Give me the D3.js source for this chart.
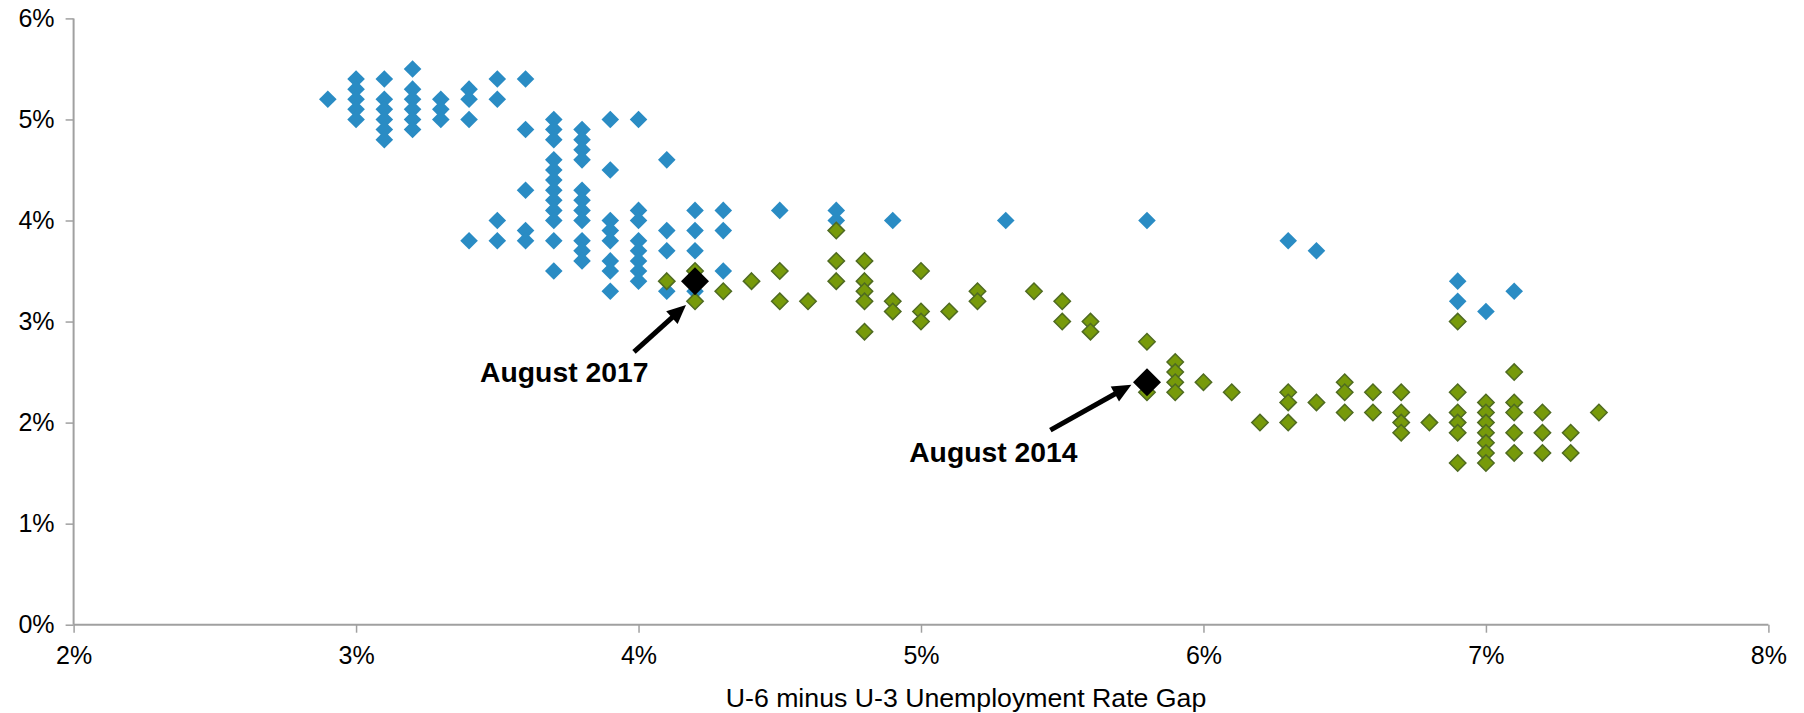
<!DOCTYPE html>
<html>
<head>
<meta charset="utf-8">
<script src="https://cdnjs.cloudflare.com/ajax/libs/d3/7.8.5/d3.min.js"></script>
<style>
  html, body { margin: 0; padding: 0; background: #fff; }
  svg { display: block; }
  text { font-family: "Liberation Sans", Arial, sans-serif; fill: #000; }
</style>
</head>
<body>
<svg id="chart" width="1804" height="713"></svg>
<script>
// ---- Data (U-6 minus U-3 gap %, y value %) ----
const blueX = [2.9,
  3.0,3.0,3.0,3.0,3.0,
  3.1,3.1,3.1,3.1,3.1,3.1,
  3.2,3.2,3.2,3.2,3.2,3.2,
  3.3,3.3,3.3,
  3.4,3.4,3.4,3.4,
  3.5,3.5,3.5,3.5,
  3.6,3.6,3.6,3.6,3.6,
  3.7,3.7,3.7,3.7,3.7,3.7,3.7,3.7,3.7,3.7,3.7,3.7,
  3.8,3.8,3.8,3.8,3.8,3.8,3.8,3.8,3.8,3.8,3.8,
  3.9,3.9,3.9,3.9,3.9,3.9,3.9,3.9,
  4.0,4.0,4.0,4.0,4.0,4.0,4.0,4.0,
  4.1,4.1,4.1,4.1,
  4.2,4.2,4.2,4.2,
  4.3,4.3,4.3,
  4.5,
  4.7,4.7,
  4.9,
  5.3,
  5.8,
  6.3,
  6.4,
  6.9,6.9,
  7.0,
  7.1];
const blueY = [5.2,
  5.4,5.3,5.2,5.1,5.0,
  5.4,5.2,5.1,5.0,4.9,4.8,
  5.5,5.3,5.2,5.1,5.0,4.9,
  5.2,5.1,5.0,
  5.3,5.2,5.0,3.8,
  5.4,5.2,4.0,3.8,
  5.4,4.9,4.3,3.9,3.8,
  5.0,4.9,4.8,4.6,4.5,4.4,4.3,4.2,4.1,4.0,3.8,3.5,
  4.9,4.8,4.7,4.6,4.3,4.2,4.1,4.0,3.8,3.7,3.6,
  5.0,4.5,4.0,3.9,3.8,3.6,3.5,3.3,
  5.0,4.1,4.0,3.8,3.7,3.6,3.5,3.4,
  4.6,3.9,3.7,3.3,
  4.1,3.9,3.7,3.3,
  4.1,3.9,3.5,
  4.1,
  4.1,4.0,
  4.0,
  4.0,
  4.0,
  3.8,
  3.7,
  3.4,3.2,
  3.1,
  3.3];

const greenX = [4.1,
  4.2,4.2,
  4.3,
  4.4,
  4.5,4.5,
  4.6,
  4.7,4.7,4.7,
  4.8,4.8,4.8,4.8,4.8,
  4.9,4.9,
  5.0,5.0,5.0,
  5.1,
  5.2,5.2,
  5.4,
  5.5,5.5,
  5.6,5.6,
  5.8,5.8,
  5.9,5.9,5.9,5.9,
  6.0,
  6.1,
  6.2,
  6.3,6.3,6.3,
  6.4,
  6.5,6.5,6.5,
  6.6,6.6,
  6.7,6.7,6.7,6.7,
  6.8,
  6.9,6.9,6.9,6.9,6.9,6.9,
  7.0,7.0,7.0,7.0,7.0,7.0,7.0,
  7.1,7.1,7.1,7.1,7.1,
  7.2,7.2,7.2,
  7.3,7.3,
  7.4];
const greenY = [3.4,
  3.5,3.2,
  3.3,
  3.4,
  3.5,3.2,
  3.2,
  3.9,3.6,3.4,
  3.6,3.4,3.3,3.2,2.9,
  3.2,3.1,
  3.5,3.1,3.0,
  3.1,
  3.3,3.2,
  3.3,
  3.2,3.0,
  3.0,2.9,
  2.8,2.3,
  2.6,2.5,2.4,2.3,
  2.4,
  2.3,
  2.0,
  2.3,2.2,2.0,
  2.2,
  2.4,2.3,2.1,
  2.3,2.1,
  2.3,2.1,2.0,1.9,
  2.0,
  3.0,2.3,2.1,2.0,1.9,1.6,
  2.2,2.1,2.0,1.9,1.8,1.7,1.6,
  2.5,2.2,2.1,1.9,1.7,
  2.1,1.9,1.7,
  1.9,1.7,
  2.1];

const highlightX = [4.2, 5.8];
const highlightY = [3.4, 2.4];
const highlightLabels = ["August 2017", "August 2014"];
// annotation geometry in data units: label anchor and arrow tail/tip
const labelX = [3.737, 5.256];
const labelY = [2.405, 1.615];
const arrowFromX = [3.984, 5.458];
const arrowFromY = [2.699, 1.925];
const arrowToX = [4.168, 5.745];
const arrowToY = [3.165, 2.375];

const xTicks = [2, 3, 4, 5, 6, 7, 8];
const yTicks = [0, 1, 2, 3, 4, 5, 6];
const xTitle = "U-6 minus U-3 Unemployment Rate Gap";

// ---- Layout ----
const svg = d3.select("#chart");
const x = d3.scaleLinear().domain([2, 8]).range([73.6, 1768.4]);
const y = d3.scaleLinear().domain([0, 6]).range([624.7, 18.4]);
const axisColor = "#a0a0a0";

// axes
const xAxis = svg.append("g").attr("transform", `translate(0,${y(0)})`)
  .call(d3.axisBottom(x).tickValues(xTicks).tickFormat(d => d + "%").tickSize(8).tickPadding(14));
const yAxis = svg.append("g").attr("transform", `translate(${x(2)},0)`)
  .call(d3.axisLeft(y).tickValues(yTicks).tickFormat(d => d + "%").tickSize(8).tickPadding(11));
[xAxis, yAxis].forEach(g => {
  g.select(".domain").attr("stroke", axisColor).attr("stroke-width", 2);
  g.selectAll(".tick line").attr("stroke", axisColor).attr("stroke-width", 1.5);
  g.selectAll(".tick text").attr("font-size", 25).attr("fill", "#000")
    .style("font-family", "'Liberation Sans', Arial, sans-serif");
});
// redraw domains without outer-tick hooks
xAxis.select(".domain").attr("d", `M${x(2)},0H${x(8)}`);
yAxis.select(".domain").attr("d", `M0,${y(6)}V${y(0)}`);

svg.append("text")
  .attr("x", 966).attr("y", 707)
  .attr("text-anchor", "middle")
  .attr("font-size", 26.7)
  .text(xTitle);

const diamond = (cx, cy, r) => `M${cx},${cy - r}L${cx + r},${cy}L${cx},${cy + r}L${cx - r},${cy}Z`;

// blue series
svg.append("g").selectAll("path").data(blueX.map((d, i) => [d, blueY[i]])).join("path")
  .attr("d", d => diamond(x(d[0]), y(d[1]), 8.8))
  .attr("fill", "#2a8cc4");

// green series
svg.append("g").selectAll("path").data(greenX.map((d, i) => [d, greenY[i]])).join("path")
  .attr("d", d => diamond(x(d[0]), y(d[1]), 8.2))
  .attr("fill", "#779a0a")
  .attr("stroke", "#4f6b22")
  .attr("stroke-width", 1.5);

// highlights
svg.append("g").selectAll("path").data(highlightX.map((d, i) => [d, highlightY[i]])).join("path")
  .attr("d", d => diamond(x(d[0]), y(d[1]), 14))
  .attr("fill", "#000");

// annotations
const ann = svg.append("g");
highlightLabels.forEach((lab, i) => {
  ann.append("text")
    .attr("x", x(labelX[i])).attr("y", y(labelY[i]))
    .attr("text-anchor", "middle")
    .attr("font-size", 28.3).attr("font-weight", "bold")
    .text(lab);
  const x0 = x(arrowFromX[i]), y0 = y(arrowFromY[i]);
  const x1 = x(arrowToX[i]), y1 = y(arrowToY[i]);
  const len = Math.hypot(x1 - x0, y1 - y0);
  const ux = (x1 - x0) / len, uy = (y1 - y0) / len;
  const headL = 19, headW = 8.5;
  const bx = x1 - ux * headL, by = y1 - uy * headL;
  ann.append("line")
    .attr("x1", x0).attr("y1", y0)
    .attr("x2", bx + ux * 2).attr("y2", by + uy * 2)
    .attr("stroke", "#000").attr("stroke-width", 5);
  ann.append("path")
    .attr("d", `M${x1},${y1}L${bx - uy * headW},${by + ux * headW}L${bx + uy * headW},${by - ux * headW}Z`)
    .attr("fill", "#000");
});
</script>
</body>
</html>
